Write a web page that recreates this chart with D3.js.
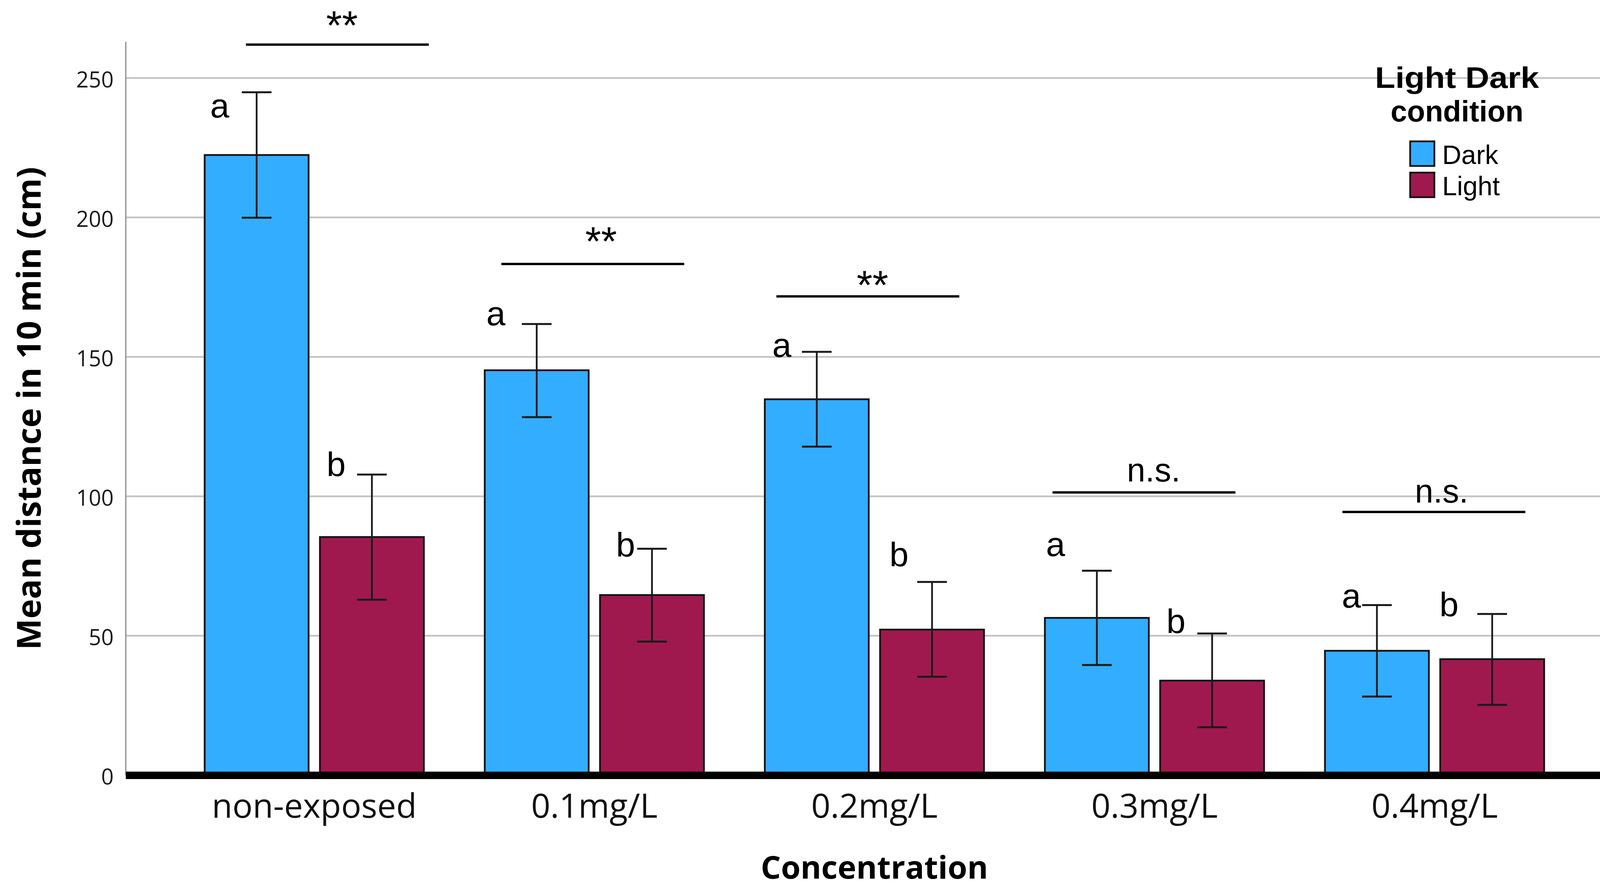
<!DOCTYPE html>
<html>
<head>
<meta charset="utf-8">
<script src="https://cdn.jsdelivr.net/npm/d3@7"></script>
<style>
  html, body { margin: 0; padding: 0; background: #ffffff; }
  svg { display: block; }
</style>
</head>
<body>
<script>
// ---------------- DATA ----------------
const categories = ["non-exposed", "0.1mg/L", "0.2mg/L", "0.3mg/L", "0.4mg/L"];
const conditions = ["Dark", "Light"];

const darkMeans    = [222.4, 145.2, 134.8, 56.4, 44.6];
const darkErrLow   = [199.9, 128.4, 117.8, 39.5, 28.2];
const darkErrHigh  = [244.9, 161.8, 151.8, 73.3, 61.0];

const lightMeans   = [85.4, 64.6, 52.2, 33.9, 41.6];
const lightErrLow  = [62.9, 47.9, 35.3, 17.2, 25.2];
const lightErrHigh = [107.8, 81.2, 69.3, 50.8, 57.8];

const yTicks = [0, 50, 100, 150, 200, 250];

// letter annotations (value-space heights of label baselines)
const darkLetters  = ["a", "a", "a", "a", "a"];
const lightLetters = ["b", "b", "b", "b", "b"];
const darkLetterY  = [235.9, 161.3, 150.0, 78.6, 60.1];
const lightLetterY = [107.3, 78.4, 74.9, 51.0, 57.0];

// significance annotations
const sigLabels = ["**", "**", "**", "n.s.", "n.s."];
const sigLineY  = [262.0, 183.3, 171.7, 101.4, 94.4];
const sigTextY  = [263.8, 186.4, 170.7, 105.3, 97.8];

const legendTitle = ["Light Dark", "condition"];

// ---------------- LAYOUT ----------------
const W = 4179, H = 2274;
const plotLeft = 322, plotRight = 4155, plotBottom = 1985, plotTop = 107;

// offsets (fractions of bar width / band step) for hand-placed annotations
const darkLetterDx  = [-0.355, -0.393, -0.336, -0.397, -0.246];
const lightLetterDx = [-0.344, -0.254, -0.318, -0.348, -0.415];
const sigLineDx     = [-0.244, -0.332, -0.350, -0.364, -0.329];
const sigLineLen    = 0.653;
const sigTextDx     = [0.099, 0.024, -0.007, -0.003, 0.025];

const colors = { Dark: "#33adff", Light: "#a0194e" };

const svg = d3.select("body").append("svg")
  .attr("width", W).attr("height", H)
  .attr("viewBox", `0 0 ${W} ${H}`);

svg.append("rect").attr("width", W).attr("height", H).attr("fill", "#ffffff");

const y = d3.scaleLinear().domain([0, 263]).range([plotBottom, plotTop]);

const x0 = d3.scaleBand()
  .domain(categories)
  .range([plotLeft, plotRight])
  .paddingInner(0)
  .paddingOuter(0.173);

const x1 = d3.scaleBand()
  .domain(conditions)
  .range([0, x0.bandwidth()])
  .paddingInner(0.0983)
  .paddingOuter(0.264);

// gridlines
svg.append("g").selectAll("line")
  .data(yTicks.filter(d => d > 0))
  .join("line")
  .attr("x1", plotLeft).attr("x2", plotRight)
  .attr("y1", d => y(d)).attr("y2", d => y(d))
  .attr("stroke", "#c4c4c4").attr("stroke-width", 4.5);

// y axis line
svg.append("line")
  .attr("x1", plotLeft).attr("x2", plotLeft)
  .attr("y1", plotTop).attr("y2", plotBottom)
  .attr("stroke", "#8a8a8a").attr("stroke-width", 3);

// y axis tick labels
const yAxis = d3.axisLeft(y).tickValues(yTicks).tickSize(0).tickPadding(31).tickFormat(d3.format("d"));
const gy = svg.append("g").attr("transform", `translate(${plotLeft},0)`).call(yAxis);
gy.select(".domain").remove();
gy.selectAll("text")
  .attr("font-family", "'Open Sans', sans-serif")
  .attr("font-size", 56)
  .attr("fill", "#1a1a1a")
  .attr("dy", "0.42em");

// data rows
const rows = categories.map((c, i) => ({
  cat: c,
  bars: [
    { cond: "Dark", mean: darkMeans[i], lo: darkErrLow[i], hi: darkErrHigh[i], letter: darkLetters[i], ly: darkLetterY[i], ldx: darkLetterDx[i] },
    { cond: "Light", mean: lightMeans[i], lo: lightErrLow[i], hi: lightErrHigh[i], letter: lightLetters[i], ly: lightLetterY[i], ldx: lightLetterDx[i] }
  ]
}));

const groups = svg.append("g").selectAll("g")
  .data(rows)
  .join("g")
  .attr("transform", d => `translate(${x0(d.cat)},0)`);

// bars
groups.selectAll("rect")
  .data(d => d.bars)
  .join("rect")
  .attr("x", d => x1(d.cond))
  .attr("width", x1.bandwidth())
  .attr("y", d => y(d.mean))
  .attr("height", d => y(0) - y(d.mean))
  .attr("fill", d => colors[d.cond])
  .attr("stroke", "#111111")
  .attr("stroke-width", 4.5);

// error bars
const capW = 76;
const eb = groups.selectAll("g.err")
  .data(d => d.bars)
  .join("g").attr("class", "err");
eb.append("line")
  .attr("x1", d => x1(d.cond) + x1.bandwidth() / 2)
  .attr("x2", d => x1(d.cond) + x1.bandwidth() / 2)
  .attr("y1", d => y(d.lo)).attr("y2", d => y(d.hi))
  .attr("stroke", "#1a1a1a").attr("stroke-width", 4.5);
eb.append("line")
  .attr("x1", d => x1(d.cond) + x1.bandwidth() / 2 - capW / 2)
  .attr("x2", d => x1(d.cond) + x1.bandwidth() / 2 + capW / 2)
  .attr("y1", d => y(d.hi)).attr("y2", d => y(d.hi))
  .attr("stroke", "#1a1a1a").attr("stroke-width", 5);
eb.append("line")
  .attr("x1", d => x1(d.cond) + x1.bandwidth() / 2 - capW / 2)
  .attr("x2", d => x1(d.cond) + x1.bandwidth() / 2 + capW / 2)
  .attr("y1", d => y(d.lo)).attr("y2", d => y(d.lo))
  .attr("stroke", "#1a1a1a").attr("stroke-width", 5);

// letter labels
groups.selectAll("text.letter")
  .data(d => d.bars)
  .join("text").attr("class", "letter")
  .attr("x", d => x1(d.cond) + x1.bandwidth() / 2 + d.ldx * x1.bandwidth())
  .attr("y", d => y(d.ly))
  .attr("text-anchor", "middle")
  .attr("font-family", "'Liberation Sans', Arial, sans-serif")
  .attr("font-size", 88)
  .attr("fill", "#000")
  .text(d => d.letter);

// significance lines & labels
const step = x0.step();
const sig = svg.append("g").selectAll("g")
  .data(categories.map((c, i) => ({ cat: c, i })))
  .join("g");
sig.append("line")
  .attr("x1", d => x0(d.cat) + x0.bandwidth() / 2 + sigLineDx[d.i] * step)
  .attr("x2", d => x0(d.cat) + x0.bandwidth() / 2 + (sigLineDx[d.i] + sigLineLen) * step)
  .attr("y1", d => y(sigLineY[d.i])).attr("y2", d => y(sigLineY[d.i]))
  .attr("stroke", "#000").attr("stroke-width", 6);
sig.append("text")
  .attr("x", d => x0(d.cat) + x0.bandwidth() / 2 + sigTextDx[d.i] * step)
  .attr("y", d => y(sigTextY[d.i]))
  .attr("text-anchor", "middle")
  .attr("font-family", "'Liberation Sans', Arial, sans-serif")
  .attr("font-size", d => sigLabels[d.i] === "**" ? 104 : 85)
  .attr("fill", "#000")
  .text(d => sigLabels[d.i]);

// x axis (thick black baseline + category labels)
const xAxis = d3.axisBottom(x0).tickSize(0).tickSizeOuter(0);
const gx = svg.append("g").attr("transform", `translate(0,${plotBottom + 0.5})`).call(xAxis);
gx.select(".domain")
  .attr("d", `M${plotLeft},0H${plotRight}`)
  .attr("stroke", "#000").attr("stroke-width", 19);
gx.selectAll("text")
  .attr("y", 2093 - plotBottom)
  .attr("dy", 0)
  .attr("font-family", "'Open Sans', sans-serif")
  .attr("font-size", 86)
  .attr("fill", "#111");

// axis titles
svg.append("text")
  .attr("x", (plotLeft + plotRight) / 2)
  .attr("y", 2250)
  .attr("text-anchor", "middle")
  .attr("font-family", "'Open Sans', sans-serif")
  .attr("font-weight", "bold")
  .attr("font-size", 81)
  .attr("fill", "#000")
  .text("Concentration");

svg.append("text")
  .attr("transform", "translate(104,1046) rotate(-90)")
  .attr("text-anchor", "middle")
  .attr("font-family", "'Open Sans', sans-serif")
  .attr("font-weight", "bold")
  .attr("font-size", 85)
  .attr("fill", "#000")
  .text("Mean distance in 10 min (cm)");

// legend
const legend = svg.append("g");
const titleLens = [420, 340];
legend.selectAll("text.ltitle")
  .data(legendTitle)
  .join("text").attr("class", "ltitle")
  .attr("x", 3730)
  .attr("y", (d, i) => 225 + i * 86)
  .attr("text-anchor", "middle")
  .attr("font-family", "'Liberation Sans', Arial, sans-serif")
  .attr("font-weight", "bold")
  .attr("font-size", 76)
  .attr("textLength", (d, i) => titleLens[i])
  .attr("lengthAdjust", "spacingAndGlyphs")
  .attr("fill", "#000")
  .text(d => d);

const legItems = legend.selectAll("g.item")
  .data(conditions)
  .join("g").attr("class", "item")
  .attr("transform", (d, i) => `translate(3610,${362 + i * 80})`);
legItems.append("rect")
  .attr("width", 62).attr("height", 63)
  .attr("fill", d => colors[d])
  .attr("stroke", "#111").attr("stroke-width", 4.5);
legItems.append("text")
  .attr("x", 82).attr("y", 58)
  .attr("font-family", "'Liberation Sans', Arial, sans-serif")
  .attr("font-size", 68)
  .attr("fill", "#000")
  .text(d => d);
</script>
</body>
</html>
